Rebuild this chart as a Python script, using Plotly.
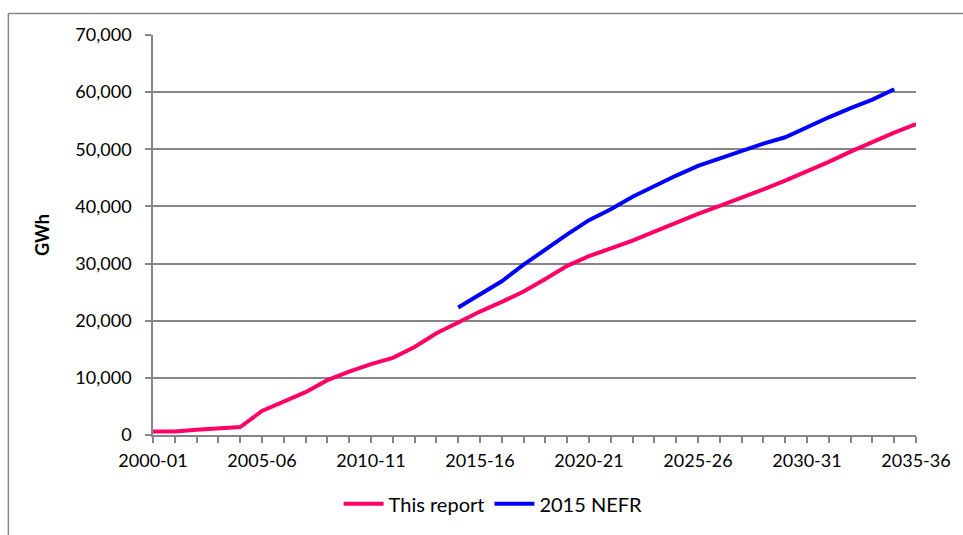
import plotly.graph_objects as go

categories = [f"{y}-{str(y + 1)[-2:]}" for y in range(2000, 2036)]

this_report = [600, 600, 900, 1100, 1400, 4200, 5900, 7500, 9600, 11100,
               12400, 13500, 15400, 17800, 19700, 21600, 23300, 25100, 27300, 29600,
               31300, 32600, 34000, 35600, 37200, 38700, 40100, 41500, 43000, 44500,
               46100, 47800, 49600, 51300, 52900, 54400]

nefr_categories = categories[14:35]
nefr_2015 = [22300, 24500, 26900, 29800, 32500, 35100, 37600, 39500, 41700, 43600,
             45400, 47100, 48400, 49700, 51000, 52100, 53900, 55600, 57200, 58700, 60500]

y_ticks = [0, 10000, 20000, 30000, 40000, 50000, 60000, 70000]
tick_text = [c if i % 5 == 0 else "" for i, c in enumerate(categories)]

FONT = "Lato"
GREY = "#868686"
FS = 18

fig = go.Figure()
fig.add_trace(go.Scatter(x=categories, y=this_report, mode="lines", name="This report",
                         line=dict(color="#FF0066", width=4)))
fig.add_trace(go.Scatter(x=nefr_categories, y=nefr_2015, mode="lines", name="2015 NEFR",
                         line=dict(color="#0000FF", width=4)))

L, R, T, B = 153, 45, 35, 93
W, H = 963, 535
pw, ph = W - L - R, H - T - B

def px_x(p):
    return (p - L) / pw

def px_y(p):
    return (H - B - p) / ph

frame = dict(color=GREY, width=1.5)

fig.update_layout(
    width=W, height=H,
    margin=dict(l=L, r=R, t=T, b=B),
    paper_bgcolor="white", plot_bgcolor="white",
    font=dict(family=FONT, size=FS, color="black"),
    showlegend=True,
    legend=dict(orientation="h", x=px_x(494), y=px_y(512), xanchor="center", yanchor="middle",
                font=dict(family=FONT, size=20), itemwidth=40, bgcolor="rgba(0,0,0,0)"),
    xaxis=dict(type="category", categoryorder="array", categoryarray=categories,
               tickmode="array", tickvals=categories, ticktext=tick_text,
               range=[0, len(categories) - 1], showgrid=False,
               showline=True, linecolor=GREY, linewidth=1.5,
               ticks="outside", ticklen=6, tickcolor=GREY, tickwidth=1.5,
               tickangle=0, ticklabelstandoff=3, tickfont=dict(family=FONT, size=FS)),
    yaxis=dict(range=[0, 70000], tickvals=y_ticks, tickformat=",d",
               showgrid=True, gridcolor=GREY, gridwidth=1.5,
               showline=True, linecolor=GREY, linewidth=1.5,
               ticks="outside", ticklen=6, tickcolor=GREY, tickwidth=1.5,
               ticklabelstandoff=10,
               zeroline=False, tickfont=dict(family=FONT, size=FS),
               title=dict(text="<b>GWh</b>", font=dict(family=FONT, size=FS), standoff=21)),
    shapes=[
        dict(type="line", xref="paper", yref="paper",
             x0=px_x(8), x1=px_x(990), y0=px_y(13), y1=px_y(13), line=frame, layer="below"),
        dict(type="line", xref="paper", yref="paper",
             x0=px_x(8), x1=px_x(8), y0=px_y(13), y1=px_y(560), line=frame, layer="below"),
    ],
)

fig.write_html("out.html", config={"displayModeBar": False},
               post_script="document.body.style.margin='0';document.body.style.overflow='hidden';")
